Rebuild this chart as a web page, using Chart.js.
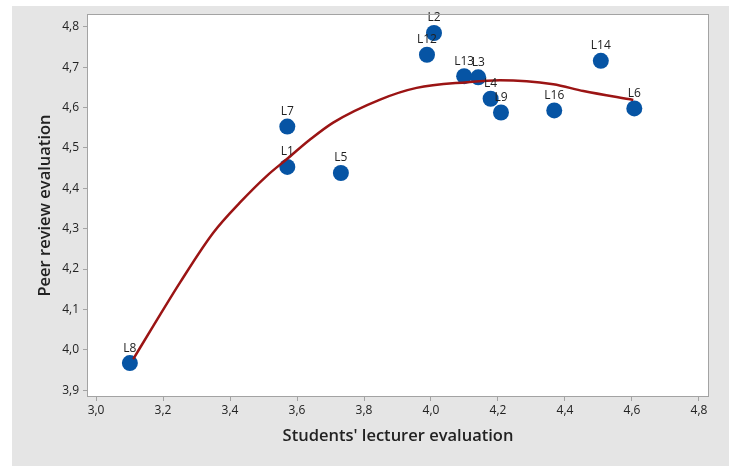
<!DOCTYPE html>
<html>
<head>
<meta charset="utf-8">
<script src="https://cdn.jsdelivr.net/npm/chart.js@4"></script>
<style>
  html, body { margin: 0; padding: 0; background: #fff; }
  #wrap { width: 729px; height: 466px; }
</style>
</head>
<body>
<div id="wrap"><canvas id="fitChart" width="729" height="466"></canvas></div>
<script>
// lecturers: students' evaluation (x) vs peer review (y)
const labels   = ['L8', 'L7', 'L1', 'L5', 'L12', 'L2', 'L13', 'L3', 'L4', 'L9', 'L16', 'L14', 'L6'];
const studentX = [3.101, 3.571, 3.571, 3.731, 3.988, 4.009, 4.099, 4.141, 4.178, 4.209, 4.368, 4.507, 4.607];
const peerY    = [3.967, 4.553, 4.453, 4.438, 4.731, 4.785, 4.678, 4.675, 4.622, 4.588, 4.593, 4.716, 4.598];

// fitted curve
const fitX = [3.111, 3.171, 3.251, 3.350, 3.430, 3.510, 3.569, 3.639, 3.708, 3.848, 3.957, 4.107, 4.206, 4.365, 4.455, 4.604];
const fitY = [3.977, 4.059, 4.167, 4.290, 4.365, 4.431, 4.472, 4.521, 4.563, 4.620, 4.649, 4.663, 4.668, 4.658, 4.641, 4.619];

const xTicks = [3.0, 3.2, 3.4, 3.6, 3.8, 4.0, 4.2, 4.4, 4.6, 4.8];
const yTicks = [3.9, 4.0, 4.1, 4.2, 4.3, 4.4, 4.5, 4.6, 4.7, 4.8];

const fmt = v => v.toFixed(1).replace('.', ',');
const FONT = "'Open Sans', 'Noto Sans', sans-serif";

const background = {
    id: 'background',
    beforeDraw(chart) {
        const c = chart.ctx;
        c.save();
        c.fillStyle = '#e5e5e5';
        c.fillRect(12, 6, chart.width - 12, chart.height - 6);
        const a = chart.chartArea;
        c.fillStyle = '#ffffff';
        c.fillRect(a.left, a.top, a.right - a.left, a.bottom - a.top);
        c.restore();
    },
    afterDraw(chart) {
        const c = chart.ctx;
        const a = chart.chartArea;
        c.save();
        c.strokeStyle = '#a3a3a3';
        c.lineWidth = 1;
        c.strokeRect(a.left + 0.5, a.top + 0.5, a.right - a.left - 1, a.bottom - a.top - 1);
        c.restore();
    }
};

const pointLabels = {
    id: 'pointLabels',
    afterDatasetsDraw(chart) {
        const meta = chart.getDatasetMeta(1);
        const c = chart.ctx;
        c.save();
        c.font = '12px ' + FONT;
        c.fillStyle = '#222';
        c.textAlign = 'center';
        c.textBaseline = 'middle';
        meta.data.forEach((pt, i) => {
            c.fillText(labels[i], pt.x, pt.y - 15);
        });
        c.restore();
    }
};

const ctx = document.getElementById('fitChart').getContext('2d');
new Chart(ctx, {
    type: 'scatter',
    data: {
        datasets: [
            {
                type: 'line',
                data: fitX.map((x, i) => ({ x: x, y: fitY[i] })),
                borderColor: '#9b1414',
                borderWidth: 2.5,
                pointRadius: 0,
                fill: false,
                cubicInterpolationMode: 'monotone'
            },
            {
                data: studentX.map((x, i) => ({ x: x, y: peerY[i] })),
                backgroundColor: '#0654a4',
                borderColor: '#0654a4',
                pointRadius: 8,
                borderWidth: 0
            }
        ]
    },
    options: {
        responsive: false,
        animation: false,
        layout: { padding: { left: 0, top: 14, right: 20, bottom: 0 } },
        plugins: {
            legend: { display: false },
            tooltip: { enabled: false }
        },
        scales: {
            x: {
                type: 'linear',
                min: 2.973,
                max: 4.83,
                afterFit(scale) { scale.height = 69; },
                afterBuildTicks(scale) { scale.ticks = xTicks.map(v => ({ value: v })); },
                grid: { drawOnChartArea: false, drawTicks: true, tickLength: 4, color: '#a3a3a3' },
                border: { display: false },
                ticks: { callback: v => fmt(v), color: '#222', padding: 2, maxRotation: 0, font: { family: FONT, size: 12 } },
                title: {
                    display: true,
                    text: "Students' lecturer evaluation",
                    color: '#222',
                    font: { family: FONT, size: 16.5, weight: '600' },
                    padding: { top: 0, bottom: 20 }
                }
            },
            y: {
                type: 'linear',
                min: 3.883,
                max: 4.832,
                afterFit(scale) { scale.width = 87; },
                afterBuildTicks(scale) { scale.ticks = yTicks.map(v => ({ value: v })); },
                grid: { drawOnChartArea: false, drawTicks: true, tickLength: 4, color: '#a3a3a3' },
                border: { display: false },
                ticks: { callback: v => fmt(v), color: '#222', padding: 4, font: { family: FONT, size: 12 } },
                title: {
                    display: true,
                    text: 'Peer review evaluation',
                    color: '#222',
                    font: { family: FONT, size: 16.5, weight: '600' },
                    padding: { top: 35, bottom: 0 }
                }
            }
        }
    },
    plugins: [background, pointLabels]
});
</script>
</body>
</html>
